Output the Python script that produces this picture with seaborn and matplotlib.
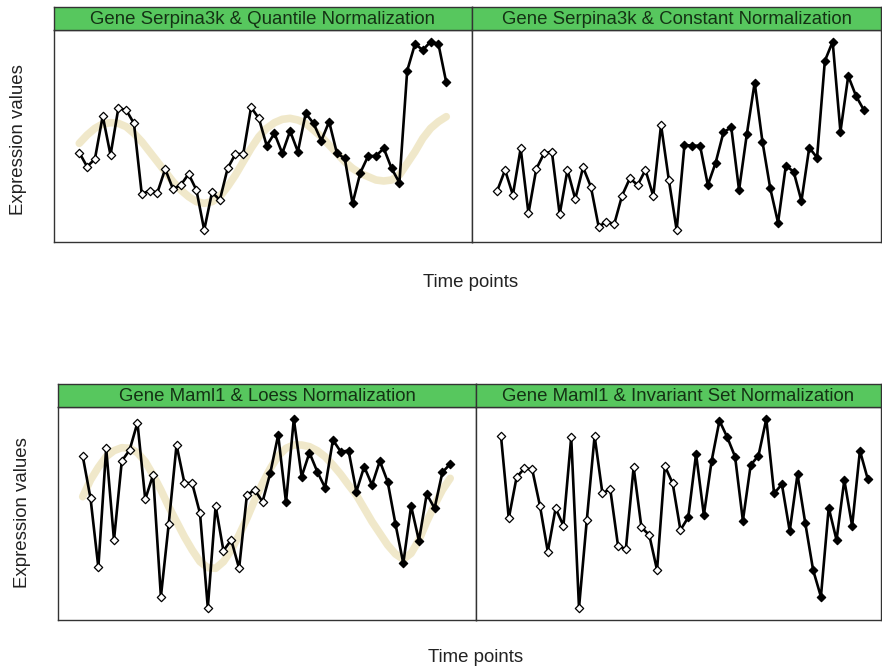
import matplotlib
matplotlib.use("Agg")
import matplotlib.pyplot as plt
import numpy as np
import pandas as pd
import seaborn as sns

# time points 1..48
time_points = list(range(1, 49))

quantile_vals = [272, 230, 253, 382, 265, 405, 400, 360, 148, 158, 152, 223, 163, 175, 208, 160,
                 40, 153, 130, 225, 268, 268, 408, 375, 293, 330, 270, 337, 275, 390, 360, 308,
                 365, 270, 255, 120, 212, 262, 262, 285, 225, 182, 518, 598, 580, 605, 598, 483]
quantile_fit = [300, 325, 345, 358, 362, 360, 350, 330, 305, 275, 245, 215, 185, 160, 140, 125,
                120, 125, 140, 170, 205, 245, 285, 320, 345, 362, 372, 375, 370, 360, 340, 320,
                295, 270, 245, 225, 210, 200, 190, 187, 190, 205, 240, 275, 315, 345, 365, 380]
constant_vals = [158, 220, 145, 285, 90, 223, 270, 275, 87, 220, 133, 228, 170, 50, 65, 58,
                 143, 195, 175, 220, 142, 355, 190, 40, 295, 293, 293, 175, 242, 333, 348, 160,
                 328, 482, 305, 165, 62, 233, 215, 127, 287, 257, 547, 605, 335, 502, 442, 400]
loess_vals = [492, 365, 158, 515, 240, 477, 510, 592, 362, 435, 70, 288, 525, 412, 410, 320,
              37, 342, 208, 240, 155, 375, 390, 355, 442, 555, 353, 603, 430, 502, 445, 397,
              540, 505, 508, 385, 460, 405, 477, 415, 288, 170, 342, 238, 378, 335, 443, 468]
loess_fit = [370, 420, 458, 490, 508, 517, 515, 502, 475, 435, 390, 340, 295, 250, 210, 175,
             157, 155, 175, 210, 255, 305, 360, 410, 455, 492, 515, 525, 525, 520, 508, 490,
             465, 437, 405, 375, 335, 295, 260, 225, 198, 182, 200, 240, 295, 345, 390, 425]
invariant_vals = [552, 305, 428, 455, 452, 342, 205, 335, 283, 548, 37, 300, 552, 380, 393, 223,
                  212, 458, 278, 255, 150, 462, 410, 270, 308, 498, 315, 478, 598, 548, 490, 298,
                  465, 493, 603, 380, 407, 267, 437, 290, 150, 70, 337, 240, 420, 282, 508, 423]

titles = ["Gene Serpina3k & Quantile Normalization", "Gene Serpina3k & Constant Normalization",
          "Gene Maml1 & Loess Normalization", "Gene Maml1 & Invariant Set Normalization"]

sns.set_style("white")
plt.rcParams['font.family'] = ['Liberation Sans', 'DejaVu Sans']

W, H = 882, 668
fig = plt.figure(figsize=(W / 100, H / 100), dpi=100)


def px_axes(x0, y0, x1, y1):
    # pixel box (top-left origin) -> figure axes
    return fig.add_axes([x0 / W, 1 - y1 / H, (x1 - x0) / W, (y1 - y0) / H])


STRIP = '#57C75E'
BEIGE = '#E9DDAE'
FS = 13.4

panels = [
    # vals, fit, box, strip box, xlim, ylim
    (quantile_vals, quantile_fit, (54, 30, 472, 242), (54, 7, 472, 30), (-2.24, 51.3), (4, 640)),
    (constant_vals, None, (472, 30, 881, 242), (472, 7, 881, 30), (-2.24, 50.2), (4, 640)),
    (loess_vals, loess_fit, (58, 407, 476, 620), (58, 384, 476, 407), (-2.16, 51.3), (0, 639)),
    (invariant_vals, None, (476, 407, 881, 620), (476, 384, 881, 407), (-2.2, 49.7), (0, 639)),
]

for (vals, fit, box, sbox, xl, yl), title in zip(panels, titles):
    ax = px_axes(*box)
    df = pd.DataFrame({'time': time_points, 'value': vals})
    df['kind'] = np.where(df['time'] <= 24, 'open', 'filled')
    if fit is not None:
        fd = pd.DataFrame({'time': time_points, 'value': fit})
        sns.lineplot(data=fd, x='time', y='value', ax=ax, color=BEIGE, lw=5.5, alpha=0.65,
                     solid_capstyle='round')
    sns.lineplot(data=df, x='time', y='value', ax=ax, color='black', lw=1.9)
    sns.scatterplot(data=df[df['kind'] == 'open'], x='time', y='value', ax=ax, marker='D',
                    s=18, facecolor='white', edgecolor='black', linewidth=0.9, zorder=3)
    sns.scatterplot(data=df[df['kind'] == 'filled'], x='time', y='value', ax=ax, marker='D',
                    s=18, color='black', edgecolor='black', linewidth=0.9, zorder=3)
    ax.set_xlim(*xl)
    ax.set_ylim(*yl)
    ax.set_xticks([])
    ax.set_yticks([])
    ax.set_xlabel('')
    ax.set_ylabel('')
    for sp in ax.spines.values():
        sp.set_color('#333333')
        sp.set_linewidth(1.0)

    sax = px_axes(*sbox)
    sax.set_facecolor(STRIP)
    sax.set_xticks([])
    sax.set_yticks([])
    for sp in sax.spines.values():
        sp.set_color('#333333')
        sp.set_linewidth(1.0)
    sax.text(0.5, 0.45, title, ha='center', va='center', fontsize=FS, color='#143214',
             transform=sax.transAxes)

fig.text(471 / W, 1 - 283 / H, 'Time points', ha='center', va='center', fontsize=FS, color='#222222')
fig.text(476 / W, 1 - 658 / H, 'Time points', ha='center', va='center', fontsize=FS, color='#222222')
fig.text(19 / W, 1 - 140 / H, 'Expression values', ha='center', va='center', rotation=90,
         fontsize=FS, color='#222222')
fig.text(23 / W, 1 - 513 / H, 'Expression values', ha='center', va='center', rotation=90,
         fontsize=FS, color='#222222')

fig.savefig('out.png', dpi=100)
